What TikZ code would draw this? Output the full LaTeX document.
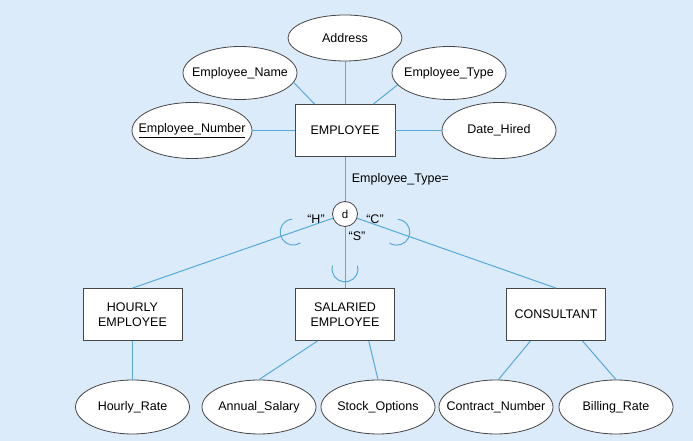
\documentclass[tikz,border=0pt]{standalone}
\usepackage{fontspec}
\setmainfont{Liberation Sans}
\usepackage{tikz}
\usetikzlibrary{shapes, positioning, decorations.markings}
\usepackage{xcolor}
\definecolor{paleblue}{RGB}{219,235,250}
\definecolor{lineblue}{RGB}{84,170,218}
\definecolor{darkgray}{RGB}{70,70,70}
\tikzset{entitynode/.style={rectangle, fill=white, draw=darkgray, line width=0.8pt, minimum width=99pt, minimum height=52pt, align=center},attributenode/.style={ellipse, fill=white, draw=darkgray, line width=0.8pt, minimum width=114pt, minimum height=54pt, inner sep=0pt, label=center:{#1}}}

\begin{document}
\begin{tikzpicture}[
        font=\fontsize{12.5}{15}\selectfont,
        erline/.style={draw=lineblue, line width=1pt},
        disjointnode/.style={circle, fill=white, draw=darkgray, line width=0.8pt, minimum size=25pt, inner sep=0pt},
        subsetline/.style={erline, postaction={decorate, decoration={markings, mark=at position 42pt with {\draw[erline] (105:13pt) arc[start angle=105, end angle=-105, radius=13pt];}}}}
    ]
        % Background
        \fill[paleblue] (0pt, 0pt) rectangle (693pt, 441pt);
        \useasboundingbox (0pt, 0pt) rectangle (693pt, 441pt);
        % Supertype
        \node[entitynode, minimum width=100pt] (employee) at (345pt, 310.5pt) {EMPLOYEE};
        \node[attributenode=Address, minimum height=46pt] (address) at (345pt, 403pt) {};
        \node[attributenode=Employee\_Name, minimum height=53pt] (empname) at (240pt, 368pt) {};
        \node[attributenode=Employee\_Type, minimum height=53pt] (emptype) at (449pt, 368pt) {};
        \node[attributenode={\underline{Employee\_Number}}, minimum width=120pt, minimum height=56pt] (empnumber) at (192pt, 310.5pt) {};
        \node[attributenode=Date\_Hired, minimum height=56pt] (datehired) at (499pt, 310.5pt) {};
        % Disjoint circle
        \node[disjointnode, font=\fontsize{11.5}{13}\selectfont] (disjoint) at (345pt, 227pt) {d};
        \node (hlabel) at (316pt, 222pt) {“H”};
        \node (clabel) at (375pt, 222pt) {“C”};
        \node (slabel) at (357pt, 205pt) {“S”};
        % Subtypes
        \node[entitynode] (hourly) at (132.5pt, 126.5pt) {HOURLY\\EMPLOYEE};
        \node[entitynode] (salaried) at (345pt, 126.5pt) {SALARIED\\EMPLOYEE};
        \node[entitynode] (consultant) at (556pt, 126.5pt) {CONSULTANT};
        \node[attributenode=Hourly\_Rate] (hourlyrate) at (132.5pt, 34pt) {};
        \node[attributenode=Annual\_Salary] (annualsalary) at (259pt, 34pt) {};
        \node[attributenode=Stock\_Options] (stockoptions) at (378pt, 34pt) {};
        \node[attributenode=Contract\_Number] (contractnumber) at (496pt, 34pt) {};
        \node[attributenode=Billing\_Rate] (billingrate) at (616pt, 34pt) {};
        % Lines
        \draw[erline] (address) -- (employee);
        \draw[erline] (empname.-10) -- (employee.139);
        \draw[erline] (emptype.193) -- (employee.43);
        \draw[erline] (empnumber) -- (employee);
        \draw[erline] (datehired) -- (employee);
        \draw[erline] (employee.south) -- (disjoint.north) node[right=3pt, pos=0.5] {Employee\_Type=};
        \draw[subsetline] (disjoint) -- (hourly.north);
        \draw[subsetline] (disjoint) -- (salaried.north);
        \draw[subsetline] (disjoint) -- (consultant.north);
        \draw[erline] (hourly) -- (hourlyrate);
        \draw[erline] (salaried.224) -- (annualsalary.north);
        \draw[erline] (salaried.-48) -- (stockoptions.north);
        \draw[erline] (consultant.226) -- (contractnumber.85);
        \draw[erline] (consultant.-45) -- (billingrate.north);
    \end{tikzpicture}
\end{document}
